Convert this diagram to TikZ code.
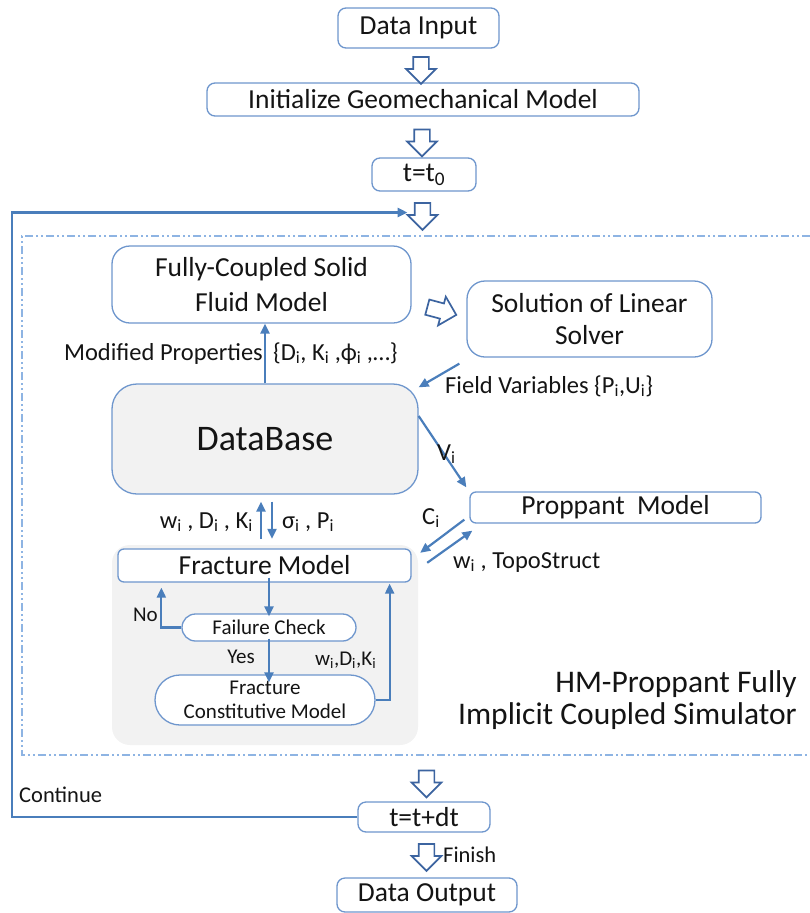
\documentclass[tikz,border=0pt]{standalone}
\usepackage{fontspec}
\setmainfont{Carlito}
\usetikzlibrary{arrows.meta,shapes.arrows,calc}
\definecolor{boxc}{RGB}{110,150,205}
\definecolor{arrc}{RGB}{74,126,187}
\definecolor{harr}{RGB}{60,100,160}
\definecolor{ddc}{RGB}{142,180,227}
\definecolor{gfill}{RGB}{242,242,242}
\definecolor{txt}{RGB}{20,20,20}
\newcommand\fsz[2]{\fontsize{#1}{#2}\selectfont}
\begin{document}
\begin{tikzpicture}[x=1pt,y=-1pt,
  box/.style={draw=boxc, line width=1.3pt, fill=white, inner sep=0pt, rounded corners=#1, text=txt, align=center},
  box/.default=8pt,
  big/.style={font=\fsz{27.5}{33}},
  lab/.style={font=\fsz{24.5}{28}, text=txt, inner sep=0pt},
  sm/.style={font=\fsz{21}{24}, text=txt, inner sep=0pt},
  harrow/.style={single arrow, draw=harr, fill=white, line width=1.7pt, minimum height=27pt, single arrow head extend=7pt, inner xsep=0pt, inner ysep=7pt},
  arr/.style={draw=arrc, line width=2.2pt, -{Triangle[length=10pt,width=9pt]}},
  loopline/.style={draw=arrc, line width=2.6pt, -{Triangle[length=10pt,width=9pt]}},
  ddline/.style={draw=ddc, line width=1.4pt, dash pattern=on 8pt off 3pt on 2pt off 3pt on 2pt off 3pt},
]
\useasboundingbox (0,0) rectangle (810,913);

% dash-dot frame
\draw[ddline] (810,236) -- (22,236) -- (22,755) -- (810,755);

% top chain
\node[box, big, minimum width=161pt, minimum height=40pt] (din) at (418.5,28) {Data Input};
\node[box, big, minimum width=432pt, minimum height=33pt] (init) at (423,99.5) {Initialize Geomechanical Model};
\node[box, big, minimum width=104pt, minimum height=33pt] (t0) at (424,174.5) {t=t\textsubscript{0}};
\node[harrow, rotate=-90] (a1) at (421,66.5) {};
\node[harrow, rotate=-90] (a2) at (422,139) {};
\node[harrow, rotate=-90] (a3) at (422.5,212.5) {};

% upper models
\node[box=18pt, font=\fsz{27.5}{35}, minimum width=299pt, minimum height=77pt] (fcs) at (261.5,284.5) {Fully-Coupled Solid\\Fluid Model};
\node[box=18pt, font=\fsz{27.5}{32}, minimum width=245pt, minimum height=76pt] (sol) at (589.5,319) {Solution of Linear\\Solver};
\node[harrow, rotate=-15, minimum height=30pt] (ar) at (438,310) {};

\node[box=25pt, fill=gfill, font=\fsz{36}{40}, minimum width=306pt, minimum height=110pt] (db) at (265,439) {DataBase};
\node[box=6pt, big, minimum width=291pt, minimum height=31pt] (prop) at (615.5,507.5) {Proppant~~Model};

% fracture group
\node[fill=gfill, rounded corners=18pt, minimum width=306pt, minimum height=200pt, inner sep=0pt] (fracbg) at (265,645) {};
\node[box=6pt, big, minimum width=293pt, minimum height=33pt] (frac) at (264.5,565.5) {Fracture Model};
\node[box=13.5pt, font=\fsz{21}{24}, minimum width=174pt, minimum height=27pt] (fail) at (269,627.5) {Failure Check};
\node[box=25pt, font=\fsz{21}{24}, minimum width=220pt, minimum height=50pt] (fcm) at (265,700) {Fracture\\Constitutive Model};

% bottom chain
\node[box, big, minimum width=132pt, minimum height=30pt] (tdt) at (424,817) {t=t+dt};
\node[box, big, minimum width=180pt, minimum height=34pt] (dout) at (427,895) {Data Output};
\node[harrow, rotate=-90] (a4) at (426.5,780) {};
\node[harrow, rotate=-90] (a5) at (426.5,853.5) {};

% connectors
\draw[arr] (db.north) -- (db.north |- fcs.south);
\draw[arr] ([shift={(-7,6)}]sol.south west) -- ([shift={(0,4)}]db.north east);
\draw[arr] ([yshift=23]db.east) -- ([shift={(-3,-4)}]prop.north west);
\draw[arr] ([shift={(-5,-4)}]prop.south west) -- ([shift={(2,8)}]fracbg.north east);
\draw[arr] ([shift={(9,18)}]fracbg.north east) -- ([shift={(3,7)}]prop.south west);
\draw[arr] ([shift={(-4,-6)}]fracbg.north) -- ([shift={(-4,7)}]db.south);
\draw[arr] ([shift={(7,7)}]db.south) -- ([shift={(7,-6)}]fracbg.north);
\draw[arr] ([yshift=5]fail.north |- frac.south) -- ([yshift=-3]fail.north);
\draw[arr] (fail.west) -| ($(frac.south west)+(44,5)$);
\draw[arr] ([yshift=3]fail.south) -- ([yshift=-8]fail.south |- fcm.north);
\draw[arr] (fcm.east) -| ($(frac.south east)+(-22,1)$);
\coordinate (loopc) at (12,817);
\draw[loopline] (tdt.west) -- (loopc) |- ([xshift=-15]a3.center);

% labels
\node[lab, anchor=base east] (lmp) at (263,360) {Modified Properties};
\node[lab, anchor=base west] (lmp2) at (273,360) {\{D\textsubscript{i}, K\textsubscript{i} ,ϕ\textsubscript{i} ,…\}};
\node[lab, anchor=base west] (lfv) at (445,393) {Field Variables \{P\textsubscript{i},U\textsubscript{i}\}};
\node[lab, anchor=base west] (lvi) at (437,460) {V\textsubscript{i}};
\node[lab, anchor=base west] (lci) at (422,524) {C\textsubscript{i}};
\node[lab, anchor=base west] (lwt) at (453,568) {w\textsubscript{i} , TopoStruct};
\node[lab, anchor=base east] (lwdk) at (253,528) {w\textsubscript{i} , D\textsubscript{i} , K\textsubscript{i}};
\node[lab, anchor=base west] (lsp) at (282,528) {σ\textsubscript{i} , P\textsubscript{i}};
\node[sm, anchor=base east] (lno) at (158,621) {No};
\node[sm, anchor=base east] (lyes) at (255,663) {Yes};
\node[sm, anchor=base west] (lwdk2) at (315,665) {w\textsubscript{i},D\textsubscript{i},K\textsubscript{i}};
\node[lab, font=\fsz{22.5}{26}, anchor=base west] (lcont) at (19,802) {Continue};
\node[lab, font=\fsz{22.5}{26}, anchor=base west] (lfin) at (443,862) {Finish};
\node[lab, font=\fsz{31.5}{34}, anchor=base east] (hm1) at (797,692) {HM-Proppant Fully};
\node[lab, font=\fsz{31.5}{34}, anchor=base east] (hm2) at (797,724) {Implicit Coupled Simulator};
\end{tikzpicture}
\end{document}
